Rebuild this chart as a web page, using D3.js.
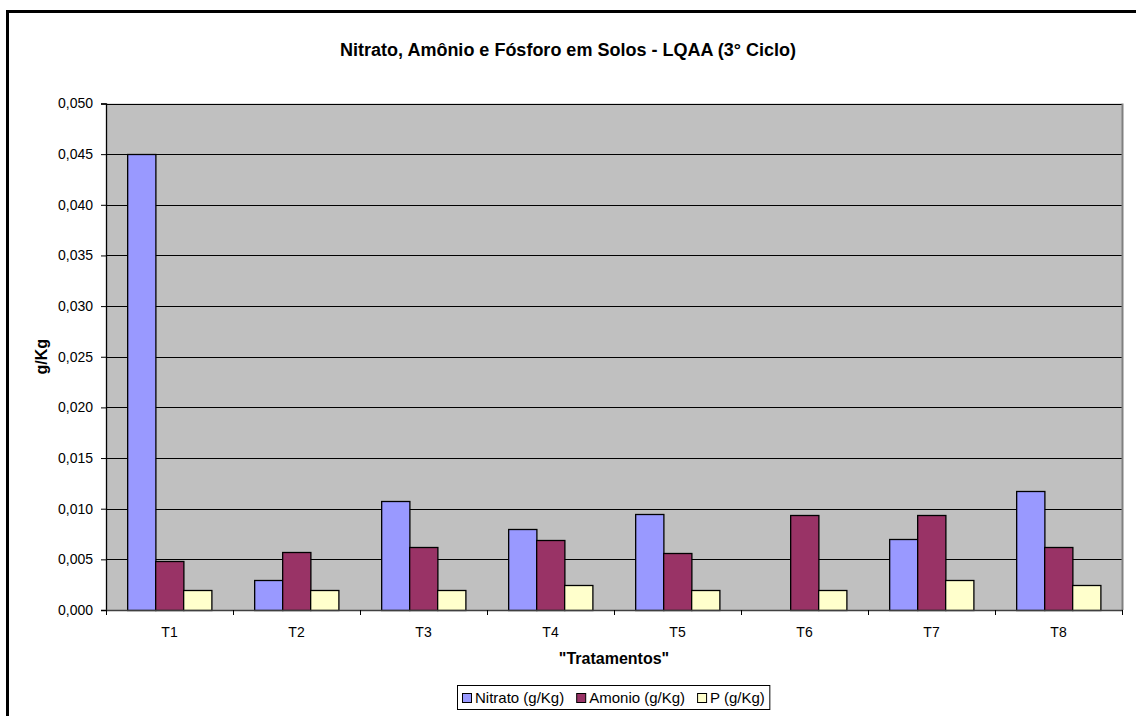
<!DOCTYPE html>
<html>
<head>
<meta charset="utf-8">
<script src="https://cdn.jsdelivr.net/npm/d3@7"></script>
<style>
  html, body { margin: 0; padding: 0; background: #fff; }
  svg { display: block; font-family: Arial, "Liberation Sans", sans-serif; }
</style>
</head>
<body>
<svg id="chart" width="1136" height="716"></svg>
<script>
// Tratamentos e séries (g/Kg)
const categories = ["T1", "T2", "T3", "T4", "T5", "T6", "T7", "T8"];
const seriesNames = ["Nitrato (g/Kg)", "Amonio (g/Kg)", "P (g/Kg)"];
const nitrato = [0.0450, 0.0030, 0.0108, 0.0080, 0.0095, 0.0000, 0.0070, 0.0117];
const amonio  = [0.0048, 0.0057, 0.0062, 0.0069, 0.0056, 0.0094, 0.0094, 0.0062];
const fosforo = [0.0020, 0.0020, 0.0020, 0.0025, 0.0020, 0.0020, 0.0030, 0.0025];
const yTicks  = [0, 0.005, 0.010, 0.015, 0.020, 0.025, 0.030, 0.035, 0.040, 0.045, 0.050];
const colors  = ["#9999FF", "#993366", "#FFFFCC"];

const seriesValues = [nitrato, amonio, fosforo];
const rows = categories.map((c, i) => ({
  cat: c,
  values: seriesNames.map((s, k) => ({ key: s, k, v: seriesValues[k][i] }))
}));

const svg = d3.select("#chart");
const plot = { left: 106, right: 1122, top: 103.5, bottom: 610 };

// outer chart frame
svg.append("rect")
  .attr("x", 7.5).attr("y", 11.5)
  .attr("width", 1200).attr("height", 800)
  .attr("fill", "none").attr("stroke", "#000").attr("stroke-width", 3);

const x = d3.scaleBand().domain(categories)
  .range([plot.left, plot.right]).paddingInner(1 / 3).paddingOuter(1 / 6);
const xOuter = d3.scaleBand().domain(categories).range([plot.left, plot.right]);
const xs = d3.scaleBand().domain(seriesNames).range([0, x.bandwidth()]);
const y = d3.scaleLinear().domain([0, 0.05]).range([plot.bottom, plot.top]);

const fmt = d3.formatLocale({ decimal: ",", thousands: ".", grouping: [3], currency: ["", ""] }).format(".3f");

// plot background
svg.append("rect")
  .attr("x", plot.left).attr("y", plot.top)
  .attr("width", plot.right - plot.left).attr("height", plot.bottom - plot.top)
  .attr("fill", "#C0C0C0");

// gridlines
svg.append("g").selectAll("line").data(yTicks.filter(t => t > 0)).join("line")
  .attr("x1", plot.left).attr("x2", plot.right)
  .attr("y1", d => Math.round(y(d)) + 0.5).attr("y2", d => Math.round(y(d)) + 0.5)
  .attr("stroke", "#000").attr("stroke-width", 1);

// plot area border (right side)
svg.append("line")
  .attr("x1", plot.right + 0.5).attr("x2", plot.right + 0.5)
  .attr("y1", plot.top).attr("y2", plot.bottom)
  .attr("stroke", "#808080").attr("stroke-width", 2);

// bars
const groups = svg.append("g").selectAll("g").data(rows).join("g")
  .attr("transform", d => `translate(${x(d.cat)},0)`);
groups.selectAll("rect").data(d => d.values.filter(e => e.v > 0)).join("rect")
  .attr("x", d => Math.round(xs(d.key)) + 0.5)
  .attr("y", d => Math.round(y(d.v)) + 0.5)
  .attr("width", xs.bandwidth())
  .attr("height", d => Math.round(y(0)) - Math.round(y(d.v)))
  .attr("fill", d => colors[d.k])
  .attr("stroke", "#000").attr("stroke-width", 1.3);

// y axis
const yAxis = svg.append("g")
  .attr("transform", `translate(${plot.left},0)`)
  .call(d3.axisLeft(y).tickValues(yTicks).tickFormat(fmt).tickSize(5).tickPadding(8));
yAxis.select(".domain").attr("stroke", "#000").attr("stroke-width", 1.3);
yAxis.selectAll(".tick line").attr("stroke", "#000");
yAxis.selectAll(".tick text").attr("font-size", 14).attr("fill", "#000")
  .attr("font-family", "Arial, 'Liberation Sans', sans-serif");

// x axis: ticks on category boundaries
const xAxisG = svg.append("g");
xAxisG.append("line")
  .attr("x1", plot.left).attr("x2", plot.right + 1)
  .attr("y1", plot.bottom + 0.5).attr("y2", plot.bottom + 0.5)
  .attr("stroke", "#404040").attr("stroke-width", 1.5);
const bounds = categories.map(c => xOuter(c)).concat([plot.right]);
xAxisG.selectAll("line.tk").data(bounds).join("line").attr("class", "tk")
  .attr("x1", d => Math.round(d) + 0.5).attr("x2", d => Math.round(d) + 0.5)
  .attr("y1", plot.bottom).attr("y2", plot.bottom + 5)
  .attr("stroke", "#000");
xAxisG.selectAll("text").data(categories).join("text")
  .attr("x", d => xOuter(d) + xOuter.bandwidth() / 2)
  .attr("y", 637)
  .attr("text-anchor", "middle").attr("font-size", 14)
  .text(d => d);

// titles
svg.append("text").attr("x", 568).attr("y", 56)
  .attr("text-anchor", "middle").attr("font-size", 18).attr("font-weight", "bold")
  .text("Nitrato, Amônio e Fósforo em Solos - LQAA (3° Ciclo)");
svg.append("text").attr("x", (plot.left + plot.right) / 2).attr("y", 664)
  .attr("text-anchor", "middle").attr("font-size", 16).attr("font-weight", "bold")
  .text("\"Tratamentos\"");
svg.append("text")
  .attr("transform", `translate(47,${(plot.top + plot.bottom) / 2}) rotate(-90)`)
  .attr("text-anchor", "middle").attr("font-size", 16).attr("font-weight", "bold")
  .text("g/Kg");

// legend
const legend = svg.append("g");
const legendBox = legend.append("rect")
  .attr("x", 457.5).attr("y", 685.5).attr("height", 24)
  .attr("fill", "#fff").attr("stroke", "#000").attr("stroke-width", 1);
let lx = 462;
seriesNames.forEach((name, k) => {
  legend.append("rect")
    .attr("x", lx + 0.5).attr("y", 693.5).attr("width", 9).attr("height", 9)
    .attr("fill", colors[k]).attr("stroke", "#000").attr("stroke-width", 1);
  const t = legend.append("text")
    .attr("x", lx + 13).attr("y", 702.5).attr("font-size", 15).text(name);
  lx += 13 + t.node().getComputedTextLength() + 12;
});
legendBox.attr("width", lx - 457.5 - 7);
</script>
</body>
</html>
